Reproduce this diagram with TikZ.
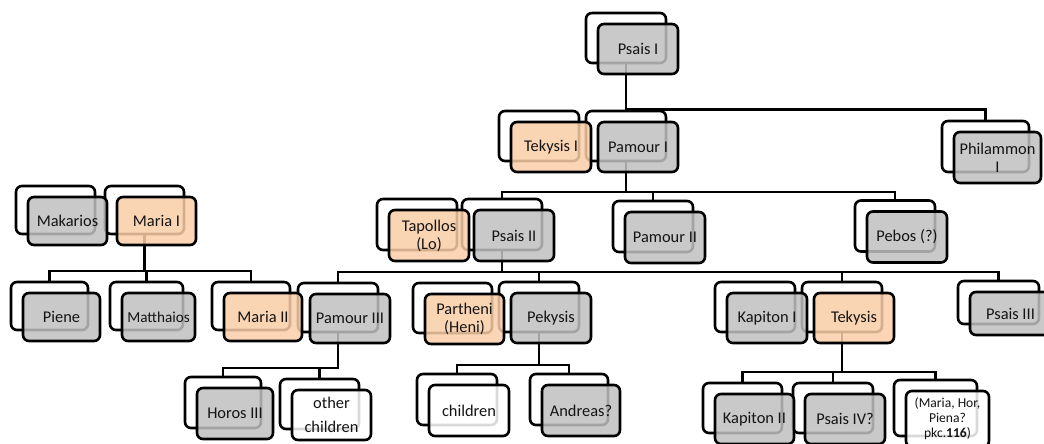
\documentclass[tikz,border=0pt]{standalone}
\usepackage{fontspec}
\setmainfont{Carlito}
\pgfdeclarelayer{back}
\pgfsetlayers{back,main}
\definecolor{boxgrey}{RGB}{192,192,192}
\definecolor{boxpeach}{RGB}{250,206,168}
\definecolor{ink}{RGB}{20,20,20}
\tikzset{
  backbox/.style={draw=black, fill=white, line width=2.6pt, rounded corners=6pt, inner sep=0pt},
  frontbox/.style={draw=black, line width=2.6pt, rounded corners=6pt, inner sep=1pt,
    fill opacity=0.85, text opacity=1, draw opacity=1, align=center,
    font=\fontsize{16.4}{18}\selectfont, text=ink},
  fillgrey/.style={fill=boxgrey},
  fillpeach/.style={fill=boxpeach},
  fillblank/.style={fill=white},
  link/.style={draw=black, line width=2.6pt}
}
% #1 name, #2/#3 centre of the rear card, #4 width, #5 height,
% #6 fill style, #7 extra options, #8 label
\newcommand\member[8]{%
  \begin{pgfonlayer}{back}
    \node[backbox, minimum width=#4pt, minimum height=#5pt] (#1b) at (#2,#3) {};
  \end{pgfonlayer}
  \node[frontbox, #6, minimum width=#4pt, minimum height=#5pt, #7] (#1)
    at ([shift={(12,11)}]#1b.center) {#8};
}
\begin{document}
\begin{tikzpicture}[x=1pt, y=-1pt]
\useasboundingbox (0,0) rectangle (1044,444);

% generation 1
\member{psaisI}{626}{38}{80}{50}{fillgrey}{}{Psais I}
% generation 2
\member{tekysisI}{539}{136}{80}{50}{fillpeach}{}{Tekysis I}
\member{pamourI}{626}{136}{80}{50}{fillgrey}{}{Pamour I}
\member{philammon}{985.5}{146.5}{87}{51}{fillgrey}{}{Philammon\\I}
% generation 3
\member{makarios}{55.5}{210}{79}{48}{fillgrey}{}{Makarios}
\member{mariaI}{144.5}{210}{79}{48}{fillpeach}{}{Maria I}
\member{tapollos}{417}{224.5}{80}{51}{fillpeach}{}{Tapollos\\(Lo)}
\member{psaisII}{502}{224.5}{80}{51}{fillgrey}{}{Psais II}
\member{pamourII}{653}{226.5}{80}{51}{fillgrey}{}{Pamour II}
\member{pebos}{895}{226}{80}{51}{fillgrey}{}{Pebos (?)}
% generation 4
\member{piene}{49.5}{306}{77}{48}{fillgrey}{}{Piene}
\member{matthaios}{146.5}{306}{73}{48}{fillgrey}{font=\fontsize{15.2}{17}\selectfont}{Matthaios}
\member{mariaII}{251}{306}{78}{48}{fillpeach}{}{Maria II}
\member{pamourIII}{338}{307.5}{80}{49}{fillgrey}{}{Pamour III}
\member{partheni}{452.5}{308}{79}{50}{fillpeach}{}{Partheni\\(Heni)}
\member{pekysis}{539}{307}{80}{50}{fillgrey}{}{Pekysis}
\member{kapitonI}{755}{307}{80}{50}{fillgrey}{}{Kapiton I}
\member{tekysis}{842}{307}{80}{50}{fillpeach}{}{Tekysis}
\member{psaisIII}{998.5}{302.5}{81}{43}{fillgrey}{}{Psais III}
% generation 5
\member{horos}{223}{402.5}{76}{51}{fillgrey}{}{Horos III}
\member{otherkids}{319.5}{404}{79}{50}{fillblank}{}{other\\[6pt]children}
\member{kids}{457}{399.5}{80}{51}{fillblank}{}{children}
\member{andreas}{569}{399.5}{78}{51}{fillgrey}{}{Andreas?}
\member{kapitonII}{742.5}{408}{79}{50}{fillgrey}{}{Kapiton II}
\member{psaisIV}{833}{408}{80}{50}{fillgrey}{}{Psais IV?}
\member{mariahor}{935.5}{408}{83}{56}{fillblank}{font=\fontsize{13.6}{15}\selectfont}{(Maria, Hor,\\Piena?\\pkc.\textbf{116})}

\begin{pgfonlayer}{back}
  % Psais I
  \draw[link] (psaisIb.south) -- (pamourIb.north) -| (philammonb.north);
  % Pamour I
  \coordinate (barPamourI) at (pamourIb.south |- 0,192);
  \draw[link] (pamourIb.south) -- (barPamourI);
  \draw[link] (psaisIIb.north) |- (barPamourI) -| (pebosb.north);
  \draw[link] (pamourIIb.north) -- (pamourIIb.north |- barPamourI);
  % Maria I
  \coordinate (barMariaI) at (mariaIb.south |- 0,271);
  \draw[link] (mariaIb.south) -- (barMariaI);
  \draw[link] (pieneb.north) |- (barMariaI) -| (mariaIIb.north);
  \draw[link] (matthaiosb.north) -- (matthaiosb.north |- barMariaI);
  % Psais II
  \coordinate (barPsaisII) at (psaisIIb.south |- 0,272);
  \draw[link] (psaisIIb.south) -- (barPsaisII);
  \draw[link] (pamourIIIb.north) |- (barPsaisII) -| (psaisIIIb.north);
  \draw[link] (pekysisb.north) -- (pekysisb.north |- barPsaisII);
  \draw[link] (tekysisb.north) -- (tekysisb.north |- barPsaisII);
  % Pamour III
  \coordinate (barPamourIII) at (pamourIIIb.south |- 0,368);
  \draw[link] (pamourIIIb.south) -- (barPamourIII) -| (horosb.north);
  \draw[link] (otherkidsb.north) -- (otherkidsb.north |- barPamourIII);
  % Pekysis
  \coordinate (barPekysis) at (pekysisb.south |- 0,365);
  \draw[link] (pekysisb.south) -- (barPekysis);
  \draw[link] (kidsb.north) |- (barPekysis) -| (andreasb.north);
  % Tekysis
  \coordinate (barTekysis) at (tekysisb.south |- 0,372);
  \draw[link] (tekysisb.south) -- (barTekysis);
  \draw[link] (kapitonIIb.north) |- (barTekysis) -| (mariahorb.north);
  \draw[link] (psaisIVb.north) -- (psaisIVb.north |- barTekysis);
\end{pgfonlayer}
\end{tikzpicture}
\end{document}
